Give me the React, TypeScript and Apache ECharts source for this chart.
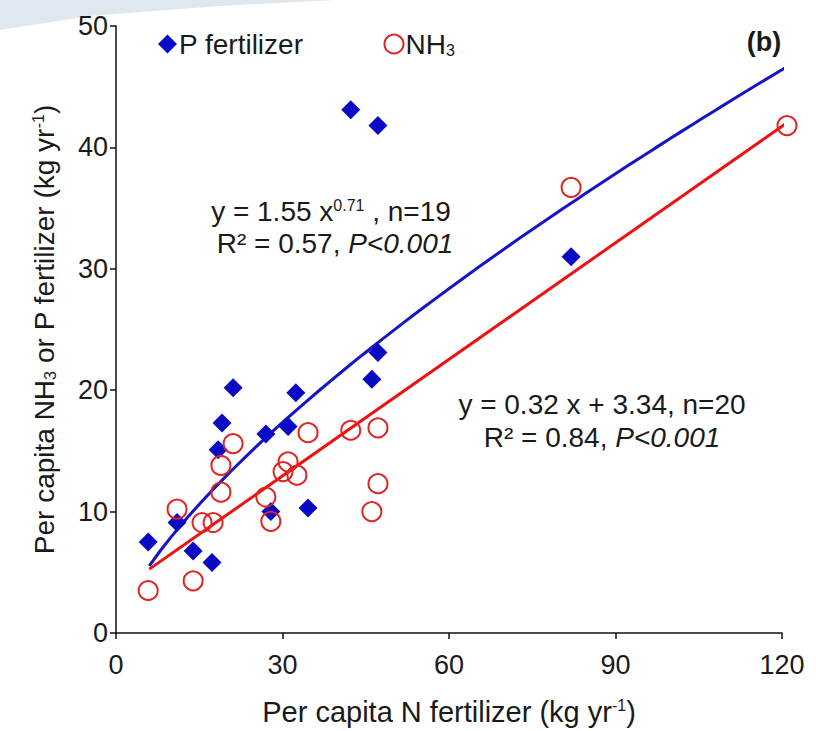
import React, { useEffect, useRef } from 'react';
import * as echarts from 'echarts';

// P fertilizer (blue diamonds)
const pFertX = [5.8, 11.0, 13.9, 17.3, 18.4, 19.1, 21.1, 27.0, 27.9, 31.0, 32.4, 34.6, 46.1, 47.2, 42.3, 47.2, 82.0];
const pFertY = [7.5, 9.1, 6.75, 5.8, 15.1, 17.3, 20.2, 16.4, 10.0, 17.0, 19.8, 10.3, 20.9, 23.1, 43.1, 41.8, 31.0];

// NH3 (red open circles)
const nh3X = [5.8, 11.0, 13.9, 15.5, 17.5, 18.9, 18.9, 21.1, 27.0, 27.9, 30.1, 31.0, 32.6, 34.6, 42.3, 47.2, 47.2, 46.1, 82.0, 120.9];
const nh3Y = [3.5, 10.2, 4.3, 9.1, 9.1, 11.6, 13.8, 15.6, 11.2, 9.2, 13.3, 14.1, 13.0, 16.5, 16.7, 16.9, 12.3, 10.0, 36.7, 41.8];

// Fitted relations printed on the chart
const powerA = 1.55;
const powerB = 0.71;
const linSlope = 0.32;
const linIntercept = 3.34;
const fitXRange = [6, 121];

const FONT = '"Liberation Sans", Arial, sans-serif';
const TXT = '#1a1a1a';
const BLUE = '#0a0ac4';
const RED = '#f01010';

export default function App() {
  const ref = useRef<HTMLDivElement>(null);
  useEffect(() => {
    const chart = echarts.init(ref.current!, null, { renderer: 'svg' });
    const powerLine: number[][] = [];
    const steps = 60;
    for (let i = 0; i <= steps; i++) {
      const x = fitXRange[0] + ((fitXRange[1] - fitXRange[0]) * i) / steps;
      powerLine.push([x, powerA * Math.pow(x, powerB)]);
    }
    const linLine = fitXRange.map((x) => [x, linSlope * x + linIntercept]);
    const rich = {
      sup: { fontSize: 16, fontFamily: FONT, color: TXT, verticalAlign: 'top', padding: [0, 0, 12, 0] },
      sub: { fontSize: 16, fontFamily: FONT, color: TXT, verticalAlign: 'bottom', padding: [10, 0, 0, 0] },
      it: { fontSize: 28, fontFamily: FONT, color: TXT, fontStyle: 'italic' },
    };
    const eqStyle = (text: string) => ({
      text, fontSize: 28, fontFamily: FONT, fill: TXT, textAlign: 'center', textVerticalAlign: 'middle', rich,
    });
    chart.setOption({
      animation: false,
      backgroundColor: '#ffffff',
      grid: { left: 116, right: 34, top: 26, bottom: 98, containLabel: false },
      legend: {
        left: 153,
        top: 25,
        itemGap: 80,
        itemWidth: 19,
        itemHeight: 19,
        data: ['P fertilizer', 'NH3'],
        formatter: (name: string) => (name === 'NH3' ? 'NH{sub|3}' : name),
        textStyle: {
          fontSize: 28,
          fontFamily: FONT,
          color: TXT,
          padding: [0, 0, 0, -3],
          rich,
        },
      },
      xAxis: {
        type: 'value',
        min: 0,
        max: 120,
        interval: 30,
        name: 'Per capita N fertilizer (kg yr{sup|-1})',
        nameLocation: 'middle',
        nameGap: 64,
        nameTextStyle: { fontSize: 29, fontFamily: FONT, color: TXT, rich },
        splitLine: { show: false },
        axisLine: { lineStyle: { color: '#111', width: 1.5 } },
        axisTick: { length: 6, lineStyle: { color: '#111', width: 1.5 } },
        axisLabel: { fontSize: 27, fontFamily: FONT, color: TXT, margin: 18 },
      },
      yAxis: {
        type: 'value',
        min: 0,
        max: 50,
        interval: 10,
        name: 'Per capita NH{sub|3} or P fertilizer (kg yr{sup|-1})',
        nameLocation: 'middle',
        nameGap: 58,
        nameTextStyle: { fontSize: 28, fontFamily: FONT, color: TXT, rich },
        splitLine: { show: false },
        axisLine: { show: true, lineStyle: { color: '#111', width: 1.5 } },
        axisTick: { show: true, length: 6, lineStyle: { color: '#111', width: 1.5 } },
        axisLabel: { fontSize: 27, fontFamily: FONT, color: TXT, margin: 8 },
      },
      graphic: [
        {
          type: 'polygon',
          shape: { points: [[0, 0], [335, 0], [220, 6], [90, 16], [0, 30]] },
          style: { fill: '#dfe8ef' },
          silent: true,
        },
        {
          type: 'text',
          x: 764,
          y: 42,
          style: { text: '(b)', fontSize: 27, fontWeight: 'bold', fontFamily: FONT, fill: TXT, textAlign: 'center', textVerticalAlign: 'middle' },
        },
        { type: 'text', x: 331, y: 211, style: eqStyle('y = 1.55 x{sup|0.71} , n=19') },
        { type: 'text', x: 335, y: 243, style: eqStyle('R² = 0.57, {it|P<0.001}') },
        { type: 'text', x: 602, y: 404, style: eqStyle('y = 0.32 x + 3.34, n=20') },
        { type: 'text', x: 602, y: 437, style: eqStyle('R² = 0.84, {it|P<0.001}') },
      ],
      series: [
        {
          name: 'powerFit',
          type: 'line',
          data: powerLine,
          showSymbol: false,
          lineStyle: { color: '#1414c8', width: 3 },
          z: 2,
          silent: true,
        },
        {
          name: 'linearFit',
          type: 'line',
          data: linLine,
          showSymbol: false,
          lineStyle: { color: RED, width: 3 },
          z: 2,
          silent: true,
        },
        {
          name: 'P fertilizer',
          type: 'scatter',
          symbol: 'diamond',
          symbolSize: 19,
          clip: false,
          data: pFertX.map((x, i) => [x, pFertY[i]]),
          itemStyle: { color: BLUE, opacity: 1 },
          z: 3,
        },
        {
          name: 'NH3',
          type: 'scatter',
          symbol: 'circle',
          symbolSize: 19,
          clip: false,
          data: nh3X.map((x, i) => [x, nh3Y[i]]),
          itemStyle: { color: 'rgba(255,255,255,0)', borderColor: '#e32222', borderWidth: 2, opacity: 1 },
          z: 4,
        },
      ],
    });
    return () => chart.dispose();
  }, []);
  return <div ref={ref} style={{ position: 'fixed', left: 0, top: 0, width: 816, height: 731 }} />;
}
